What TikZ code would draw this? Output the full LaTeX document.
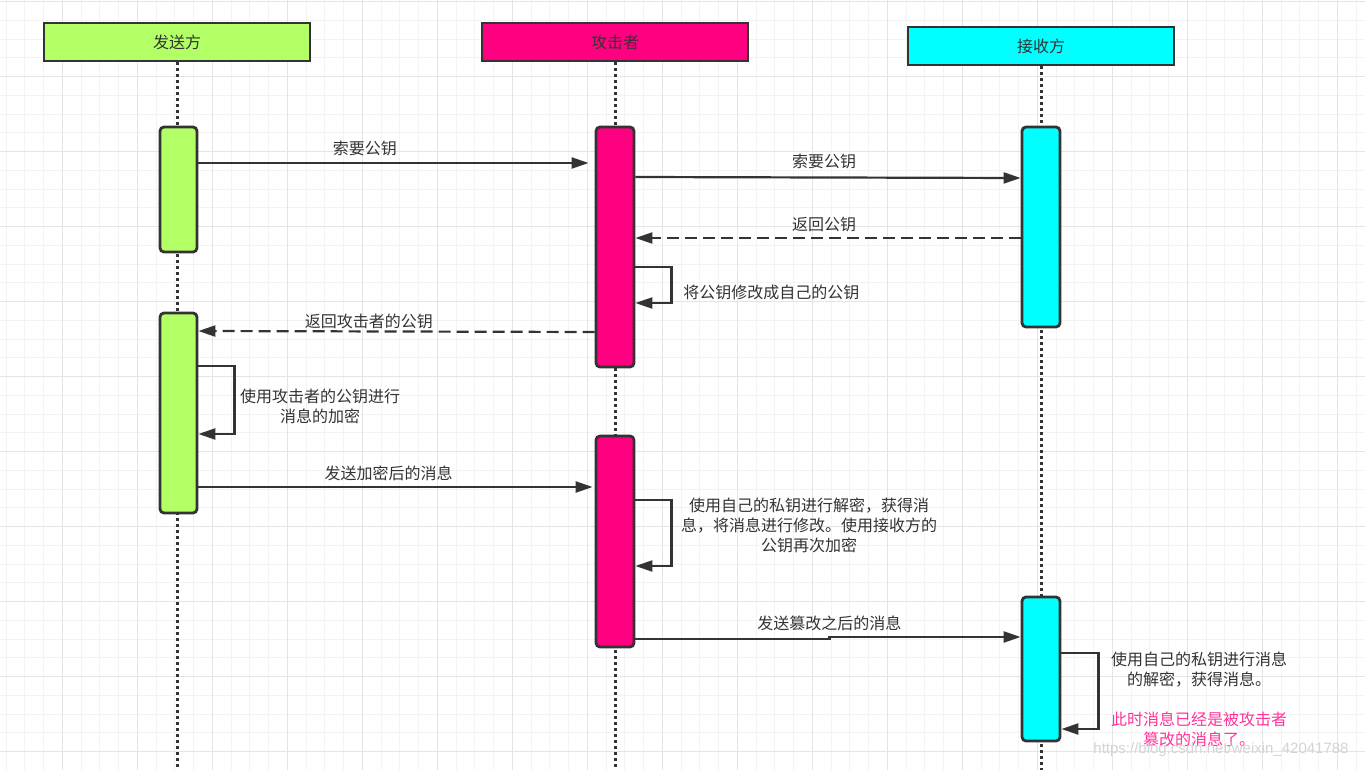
\documentclass[tikz,border=0pt]{standalone}
\usepackage{fontspec}
\setmainfont{Noto Sans CJK SC}
\newfontfamily\wmfont{Liberation Sans}
\usetikzlibrary{arrows.meta, positioning, calc}
\definecolor{lnclr}{HTML}{333333}
\definecolor{sndclr}{HTML}{B3FF66}
\definecolor{atkclr}{HTML}{FF0080}
\definecolor{rcvclr}{HTML}{00FFFF}
\definecolor{warnclr}{HTML}{FF3399}
\definecolor{gridminor}{HTML}{F3F3F3}
\definecolor{gridmajor}{HTML}{E4E4E4}
\tikzstyle{msg} = [line width=1.1pt, draw=lnclr, -{Triangle[length=8.5pt,width=5.5pt]}]
\tikzstyle{reply} = [msg, dash pattern=on 6pt off 3pt]
\tikzstyle{head} = [rectangle, minimum width=133pt, minimum height=19pt, text centered, draw=lnclr, line width=1.4pt, inner sep=0pt, font=\fontsize{8pt}{10pt}\selectfont, text=lnclr]
\tikzstyle{actbox} = [rectangle, rounded corners=2pt, minimum width=18.5pt, draw=lnclr, line width=1.4pt, inner sep=0pt]
\tikzstyle{lifeline} = [draw=lnclr, line width=1.5pt, dash pattern=on 1.5pt off 1.5pt]
\tikzstyle{lbl} = [font=\fontsize{8pt}{10pt}\selectfont, text=lnclr, inner sep=1pt]

\begin{document}
\begin{tikzpicture}[x=0.5pt, y=-0.5pt]
    \useasboundingbox (0,0) rectangle (1365,770);
    \fill[white] (0,0) rectangle (1365,770);
    % grid
    \foreach \i in {0,...,72}
        \draw[gridminor, line width=0.5pt] ({6.05+18.75*\i},0) -- ++(0,770);
    \foreach \i in {0,...,41}
        \draw[gridminor, line width=0.5pt] (0,{1.7+18.75*\i}) -- ++(1365,0);
    \foreach \i in {1,...,18}
        \draw[gridmajor, line width=0.5pt] ({-12.7+75*\i},0) -- ++(0,770);
    \foreach \i in {0,...,10}
        \draw[gridmajor, line width=0.5pt] (0,{1.7+75*\i}) -- ++(1365,0);

    % participants
    \node[head, fill=sndclr] (hd_1) at (177,42) {发送方};
    \node[head, fill=atkclr] (hd_2) at (615,42) {攻击者};
    \node[head, fill=rcvclr] (hd_3) at (1041,46) {接收方};
    \draw[lifeline] (hd_1.south) -- (hd_1.south |- 0,770);
    \draw[lifeline] (hd_2.south) -- (hd_2.south |- 0,770);
    \draw[lifeline] (hd_3.south) -- (hd_3.south |- 0,770);

    % activations
    \node[actbox, fill=sndclr, minimum height=62.5pt] (act_1) at (178.5,189.5) {};
    \node[actbox, fill=sndclr, minimum height=100pt] (act_2) at (178.5,413) {};
    \node[actbox, fill=atkclr, minimum width=19pt, minimum height=120pt] (act_3) at (615,247) {};
    \node[actbox, fill=atkclr, minimum width=19pt, minimum height=105.5pt] (act_4) at (615,541.5) {};
    \node[actbox, fill=rcvclr, minimum width=19pt, minimum height=100pt] (act_5) at (1041,227) {};
    \node[actbox, fill=rcvclr, minimum width=19pt, minimum height=72pt] (act_6) at (1041,669) {};

    % messages
    \draw[msg, shorten >=3pt] (act_1.east |- 0,163) -- (act_3.west |- 0,163) node[lbl, pos=0.42, above=2pt] {索要公钥};
    \draw[msg] (act_3.east |- 0,177) -- (act_5.west |- 0,178) node[lbl, pos=0.49, above=3pt] {索要公钥};
    \draw[reply] (act_5.west |- 0,238) -- (act_3.east |- 0,238) node[lbl, pos=0.51, above=1.5pt] {返回公钥};
    \draw[msg] (act_3.east |- 0,267) -- ++(36,0) |- (act_3.east |- 0,303);
    \node[lbl, anchor=west] (note_1) at (681,292) {将公钥修改成自己的公钥};
    \draw[reply] (act_3.west |- 0,332) -- (act_1.east |- 0,331) node[lbl, pos=0.57, above=-0.5pt] {返回攻击者的公钥};
    \draw[msg] (act_2.east |- 0,366) -- ++(36,0) |- (act_2.east |- 0,434);
    \node[lbl, align=center] (note_2) at (320,406) {使用攻击者的公钥进行\\消息的加密};
    \draw[msg, shorten >=1pt] (act_2.east |- 0,487) -- (act_4.west |- 0,487) node[lbl, pos=0.48, above=1.5pt] {发送加密后的消息};
    \draw[msg] (act_4.east |- 0,500) -- ++(36,0) |- (act_4.east |- 0,566);
    \node[lbl, align=center] (note_3) at (809,525) {使用自己的私钥进行解密，获得消\\息，将消息进行修改。使用接收方的\\公钥再次加密};
    \draw[msg] (act_4.east |- 0,639) -- ++(194,0) node[lbl, above=2.5pt] {发送篡改之后的消息} |- (act_6.west |- 0,637);
    \draw[msg] (act_6.east |- 0,653) -- ++(37,0) |- (act_6.east |- 0,729);
    \node[lbl, align=center] (note_4) at (1199,699) {使用自己的私钥进行消息\\的解密，获得消息。\\[10pt]\textcolor{warnclr}{此时消息已经是被攻击者}\\\textcolor{warnclr}{篡改的消息了。}};

    % watermark
    \node[font=\wmfont\fontsize{7.5pt}{9pt}\selectfont, text=black!17, inner sep=0pt] (wm) at (1221,750) {https://blog.csdn.net/weixin\_42041788};
\end{tikzpicture}
\end{document}
